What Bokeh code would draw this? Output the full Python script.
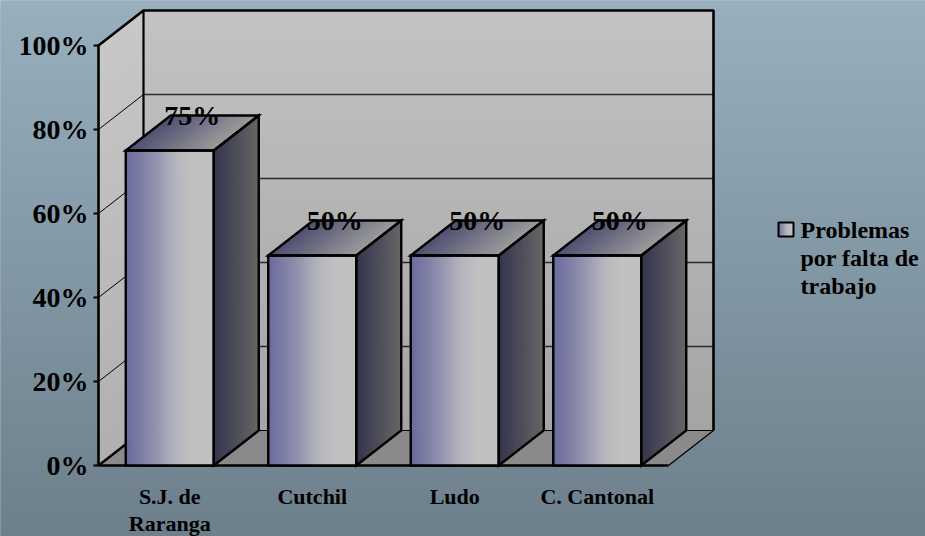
from bokeh.plotting import figure
from bokeh.models import Range1d
from bokeh.core.properties import value
from bokeh.embed import file_html
from bokeh.resources import INLINE

# ---- data -------------------------------------------------------------
categories = ["S.J. de\nRaranga", "Cutchil", "Ludo", "C. Cantonal"]
values = [75, 50, 50, 50]
value_labels = ["75%", "50%", "50%", "50%"]
tick_values = [0, 20, 40, 60, 80, 100]
tick_labels = ["0%", "20%", "40%", "60%", "80%", "100%"]
legend_lines = ["Problemas", "por falta de", "trabajo"]

# ---- layout -----------------------------------------------------------
W, H = 925, 536
AX_PX, BASE_PX = 98, 465          # front axis position in pixels
CAT_PX, PCT_PX = 142.5, 4.2       # pixels per category / per percent
DEPTH_X_PX, DEPTH_Y_PX = 45, 35   # 3-D depth offset
BAR_W = 88 / CAT_PX
LINE_GAP_PX = 27                  # line spacing of the category labels

DX = DEPTH_X_PX / CAT_PX
DY = DEPTH_Y_PX / PCT_PX
NCAT = len(categories)


def px_x(px):
    return (px - AX_PX) / CAT_PX


def px_y(py):
    return (BASE_PX - py) / PCT_PX


def hexc(rgb):
    return "#%02x%02x%02x" % tuple(int(round(c)) for c in rgb)


def grad(stops, t):
    for (t0, c0), (t1, c1) in zip(stops, stops[1:]):
        if t0 <= t <= t1:
            f = 0 if t1 == t0 else (t - t0) / (t1 - t0)
            return hexc([a + (b - a) * f for a, b in zip(c0, c1)])
    return hexc(stops[-1][1])


FONT = value("Liberation Serif")

p = figure(width=W, height=H, output_backend="svg", toolbar_location=None,
           x_range=Range1d(px_x(0), px_x(W)), y_range=Range1d(px_y(H), px_y(0)),
           min_border=0, outline_line_color=None)
p.axis.visible = False
p.grid.visible = False
p.background_fill_color = "#8698a4"
p.border_fill_color = "#8698a4"

# background: vertical gradient
bg_stops = [(0, (152, 175, 190)), (1, (108, 127, 138))]
n = 134
ys = [px_y(H * k / n) for k in range(n + 1)]
p.quad(left=px_x(0), right=px_x(W), top=ys[:-1], bottom=ys[1:],
       fill_color=[grad(bg_stops, k / n) for k in range(n)],
       line_color=[grad(bg_stops, k / n) for k in range(n)], line_width=1)

# back wall (vertical gradient)
wall_stops = [(0, (195, 195, 195)), (1, (164, 164, 164))]
n = 60
wy = [DY + 100 * k / n for k in range(n + 1)]
wcols = [grad(wall_stops, 1 - (k + 0.5) / n) for k in range(n)]
p.quad(left=DX, right=NCAT + DX, bottom=wy[:-1], top=wy[1:],
       fill_color=wcols, line_color=wcols, line_width=1)

# left side wall
lw_stops = [(0, (200, 200, 200)), (1, (176, 176, 176))]
xs, ys2, cols = [], [], []
for k in range(n):
    v0, v1 = 100 * k / n, 100 * (k + 1) / n
    xs.append([0, 0, DX, DX])
    ys2.append([v0, v1, v1 + DY, v0 + DY])
    cols.append(grad(lw_stops, 1 - (k + 0.5) / n))
p.patches(xs, ys2, fill_color=cols, line_color=cols, line_width=1)

# floor
p.patch([0, NCAT, NCAT + DX, DX], [0, 0, DY, DY], fill_color="#8a8a8a",
        line_color=None)

# gridlines on back and side walls
inner = [t for t in tick_values if 0 < t < 100]
p.segment(x0=DX, x1=NCAT + DX, y0=[t + DY for t in inner], y1=[t + DY for t in inner],
          line_color="#2a2a2a", line_width=1.6)
p.segment(x0=0, x1=DX, y0=inner, y1=[t + DY for t in inner],
          line_color="black", line_width=1)

# wall / floor edges
p.line([0, 0, DX, NCAT + DX, NCAT + DX], [0, 100, 100 + DY, 100 + DY, DY],
       line_color="black", line_width=2.6)
p.line([DX, DX], [DY, 100 + DY], line_color="black", line_width=2.2)
p.line([DX, NCAT + DX, NCAT], [DY, DY, 0], line_color="black", line_width=1.2)
p.line([0, DX], [0, DY], line_color="black", line_width=2.4)
p.line([0, NCAT], [0, 0], line_color="black", line_width=2.6)

# ticks and tick labels
p.segment(x0=px_x(AX_PX - 5), x1=0, y0=tick_values, y1=tick_values,
          line_color="black", line_width=2)
p.text(x=px_x(AX_PX - 10), y=tick_values, text=tick_labels, text_align="right",
       text_baseline="middle", text_font=FONT, text_font_style="bold",
       text_font_size="28px", text_color="black")

# bars
front_stops = [(0, (106, 106, 156)), (0.3, (140, 140, 172)),
               (0.58, (182, 182, 190)), (0.78, (193, 193, 193)), (1, (193, 193, 193))]
side_stops = [(0, (52, 52, 78)), (1, (102, 102, 102))]
top_stops = [(0, (78, 78, 114)), (1, (156, 156, 156))]
NS = 40
for i, v in enumerate(values):
    xl = i + 0.5 - BAR_W / 2
    xr = xl + BAR_W
    # front face
    fx = [xl + BAR_W * k / NS for k in range(NS + 1)]
    fc = [grad(front_stops, (k + 0.5) / NS) for k in range(NS)]
    p.quad(left=fx[:-1], right=fx[1:], bottom=0, top=v, fill_color=fc,
           line_color=fc, line_width=1)
    # side face
    sx, sy, sc = [], [], []
    for k in range(NS):
        a, b = k / NS, (k + 1) / NS
        sx.append([xr + DX * a, xr + DX * b, xr + DX * b, xr + DX * a])
        sy.append([DY * a, DY * b, v + DY * b, v + DY * a])
        sc.append(grad(side_stops, (k + 0.5) / NS))
    p.patches(sx, sy, fill_color=sc, line_color=sc, line_width=1)
    # top face
    tx, ty, tc = [], [], []
    for k in range(NS):
        a, b = BAR_W * k / NS, BAR_W * (k + 1) / NS
        tx.append([xl + a, xl + b, xl + b + DX, xl + a + DX])
        ty.append([v, v, v + DY, v + DY])
        tc.append(grad(top_stops, (k + 0.5) / NS))
    p.patches(tx, ty, fill_color=tc, line_color=tc, line_width=1)
    # outlines
    p.patch([xl, xr, xr, xl], [0, 0, v, v], fill_color=None,
            line_color="black", line_width=2.4, line_join="miter")
    p.patch([xr, xr + DX, xr + DX, xr], [0, DY, v + DY, v], fill_color=None,
            line_color="black", line_width=2.4, line_join="miter")
    p.patch([xl, xr, xr + DX, xl + DX], [v, v, v + DY, v + DY], fill_color=None,
            line_color="black", line_width=2.4, line_join="miter")

# value labels on the bar tops
p.text(x=[i + 0.5 + DX / 2 for i in range(NCAT)], y=[v + DY for v in values],
       text=value_labels, text_align="center", text_baseline="middle",
       text_font=FONT, text_font_style="bold", text_font_size="28px",
       text_color="black")

# category labels, one text per line
cx, cy, ct = [], [], []
for i, c in enumerate(categories):
    for j, line in enumerate(c.split("\n")):
        cx.append(i + 0.5)
        cy.append(px_y(483 + j * LINE_GAP_PX))
        ct.append(line)
p.text(x=cx, y=cy, text=ct, text_align="center", text_baseline="top",
       text_font=FONT, text_font_style="bold", text_font_size="22px",
       text_color="black")

# legend
sq_l, sq_r, sq_t, sq_b = px_x(778), px_x(793), px_y(222), px_y(236)
leg_stops = [(0, (106, 106, 156)), (0.6, (182, 182, 190)), (1, (193, 193, 193))]
nl = 10
lx = [sq_l + (sq_r - sq_l) * k / nl for k in range(nl + 1)]
lc = [grad(leg_stops, (k + 0.5) / nl) for k in range(nl)]
p.quad(left=lx[:-1], right=lx[1:], bottom=sq_b, top=sq_t, fill_color=lc,
       line_color=lc, line_width=1)
p.quad(left=sq_l, right=sq_r, bottom=sq_b, top=sq_t, fill_color=None,
       line_color="black", line_width=2)
p.text(x=px_x(800), y=[px_y(229 + 28 * j) for j in range(len(legend_lines))],
       text=legend_lines, text_align="left", text_baseline="middle",
       text_font=FONT, text_font_style="bold", text_font_size="24px",
       text_color="black")

open("out.html", "w").write(file_html(p, INLINE))
